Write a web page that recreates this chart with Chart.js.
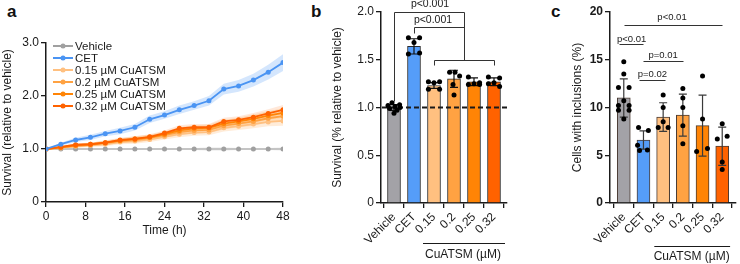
<!DOCTYPE html>
<html>
<head>
<meta charset="utf-8">
<title>CuATSM survival</title>
<script src="https://cdn.jsdelivr.net/npm/chart.js@4.4.0/dist/chart.umd.min.js"></script>
<style>
  body { margin: 0; background: #fff; }
  #wrap { position: relative; width: 740px; height: 264px; overflow: hidden; }
  canvas { position: absolute; top: 0; }
  .panel { position: absolute; top: 2px; font: bold 17px 'Liberation Sans', Arial, sans-serif; color: #111; }
</style>
</head>
<body>
<div id="wrap">
  <div class="panel" style="left:7px">a</div>
  <div class="panel" style="left:311px">b</div>
  <div class="panel" style="left:551px">c</div>
  <canvas id="chartA" style="left:0" width="300" height="264"></canvas>
  <canvas id="chartB" style="left:300px" width="215" height="264"></canvas>
  <canvas id="chartC" style="left:520px" width="220" height="264"></canvas>
</div>
<script>
// ---- panel a : survival over time ----
const hours = [0, 3, 6, 9, 12, 15, 18, 21, 24, 27, 30, 33, 36, 39, 42, 45, 48];
const vehicleMean = [1.00, 1.00, 1.00, 1.00, 1.00, 1.00, 1.00, 1.00, 1.00, 1.00, 1.00, 1.00, 1.00, 1.00, 1.00, 1.00, 1.00];
const vehicleSd   = [0.00, 0.01, 0.02, 0.02, 0.02, 0.02, 0.02, 0.02, 0.02, 0.02, 0.02, 0.03, 0.03, 0.02, 0.02, 0.02, 0.03];
const cetMean = [1.00, 1.09, 1.17, 1.22, 1.29, 1.34, 1.41, 1.56, 1.64, 1.74, 1.82, 1.91, 2.13, 2.19, 2.30, 2.45, 2.63];
const cetSd   = [0.00, 0.03, 0.04, 0.05, 0.05, 0.06, 0.06, 0.07, 0.07, 0.08, 0.08, 0.09, 0.10, 0.11, 0.12, 0.14, 0.16];
const cu015Mean = [1.00, 1.02, 1.05, 1.07, 1.09, 1.13, 1.15, 1.18, 1.23, 1.28, 1.31, 1.32, 1.40, 1.43, 1.47, 1.51, 1.53];
const cu02Mean  = [1.00, 1.03, 1.06, 1.08, 1.11, 1.15, 1.17, 1.21, 1.26, 1.32, 1.35, 1.36, 1.44, 1.48, 1.52, 1.58, 1.62];
const cu025Mean = [1.00, 1.03, 1.07, 1.09, 1.12, 1.16, 1.19, 1.22, 1.28, 1.35, 1.39, 1.40, 1.48, 1.52, 1.57, 1.63, 1.68];
const cu032Mean = [1.00, 1.04, 1.08, 1.09, 1.12, 1.17, 1.19, 1.23, 1.30, 1.39, 1.41, 1.41, 1.52, 1.55, 1.60, 1.67, 1.74];
const cuSd      = [0.00, 0.02, 0.03, 0.03, 0.04, 0.04, 0.05, 0.05, 0.05, 0.06, 0.06, 0.06, 0.07, 0.07, 0.08, 0.08, 0.09];

// ---- panel b : survival at end point ----
const groups = ['Vehicle', 'CET', '0.15', '0.2', '0.25', '0.32'];
const survMean = [1.00, 1.64, 1.23, 1.30, 1.27, 1.27];
const survSd   = [0.03, 0.08, 0.03, 0.09, 0.04, 0.04];
const survVehicle = [1.05, 1.03, 1.02, 1.01, 1.00, 0.99, 0.97, 0.94];
const survCet     = [1.73, 1.73, 1.68, 1.56, 1.57];
const surv015     = [1.27, 1.27, 1.26, 1.19, 1.19];
const surv02      = [1.37, 1.37, 1.33, 1.24, 1.13];
const surv025     = [1.32, 1.26, 1.25, 1.24, 1.24];
const surv032     = [1.32, 1.31, 1.26, 1.25, 1.22];

// ---- panel c : cells with inclusions ----
const inclMean = [11.0, 6.6, 9.0, 9.2, 8.1, 5.95];
const inclSd   = [2.0, 0.95, 1.5, 2.2, 3.2, 2.0];
const inclVehicle = [14.8, 13.5, 12.1, 12.1, 10.7, 10.2, 10.2, 9.7, 9.7, 8.8];
const inclCet     = [7.9, 7.6, 6.05, 5.5, 5.55];
const incl015     = [11.3, 10.0, 8.5, 7.9, 7.9];
const incl02      = [12.0, 11.0, 10.0, 8.1, 6.2];
const incl025     = [13.3, 8.8, 5.4, 5.7];
const incl032     = [8.3, 7.0, 6.7, 4.3, 3.5];

// colours
const grey = '#A3A2A7', blue = '#559DF9';
const oranges = ['#FFC080', '#FFA242', '#FF8405', '#FF6200'];
const barColors = [grey, blue].concat(oranges);

// horizontal scatter of dots in each group (layout only)
const jit5 = [-0.28, 0.28, 0, -0.28, 0.28];
const jitB = [[-0.1, 0.28, -0.3, 0.05, 0.3, -0.22, 0.15, 0], jit5, jit5, [-0.22, 0.05, 0.28, -0.05, 0], jit5, jit5];
const jitC = [[0, 0, -0.27, 0.27, 0, -0.27, 0.27, -0.27, 0.27, 0], [-0.25, 0.25, -0.3, -0.2, 0.2], [0, 0, 0, -0.25, 0.25], [0, 0, 0, 0, 0], [0, 0, -0.3, 0.25], [0, 0.25, -0.25, 0, 0]];

const FONT = "'Liberation Sans', Arial, Helvetica, sans-serif";
const INK = '#1a1a1a';
Chart.defaults.font.family = FONT;
Chart.defaults.font.size = 12;
Chart.defaults.color = INK;
Chart.defaults.animation = false;
Chart.defaults.events = [];
Chart.defaults.plugins.legend.display = false;
Chart.defaults.plugins.tooltip.enabled = false;

function axis(opts) {
  const base = {
    grid: { drawOnChartArea: false, color: INK, lineWidth: 1.3, tickLength: 5 },
    border: { color: INK, width: 1.5 },
    ticks: { color: INK, padding: 2 }
  };
  const out = Object.assign({}, base, opts);
  out.ticks = Object.assign({}, base.ticks, opts.ticks || {});
  return out;
}

// ================= panel a =================
const seriesA = [
  { label: 'Vehicle', mean: vehicleMean, sd: vehicleSd, color: '#A0A0A0', line: '#C4C4C4', band: 'rgba(160,160,160,0.25)', order: 6 },
  { label: 'CET', mean: cetMean, sd: cetSd, color: '#4A94F3', line: '#4A94F3', band: 'rgba(85,157,249,0.25)', order: 1 },
  { label: '0.15 µM CuATSM', mean: cu015Mean, sd: cuSd, color: oranges[0], line: oranges[0], band: 'rgba(255,192,128,0.3)', order: 5 },
  { label: '0.2 µM CuATSM', mean: cu02Mean, sd: cuSd, color: oranges[1], line: oranges[1], band: 'rgba(255,162,66,0.22)', order: 4 },
  { label: '0.25 µM CuATSM', mean: cu025Mean, sd: cuSd, color: oranges[2], line: oranges[2], band: 'rgba(255,132,5,0.18)', order: 3 },
  { label: '0.32 µM CuATSM', mean: cu032Mean, sd: cuSd, color: oranges[3], line: oranges[3], band: 'rgba(255,98,0,0.15)', order: 2 }
];

const dsA = [];
seriesA.forEach(s => {
  dsA.push({ data: hours.map((h, i) => ({ x: h, y: s.mean[i] + s.sd[i] })), borderWidth: 0, pointRadius: 0, fill: false, order: 20 });
  dsA.push({ data: hours.map((h, i) => ({ x: h, y: s.mean[i] - s.sd[i] })), borderWidth: 0, pointRadius: 0, fill: '-1', backgroundColor: s.band, order: 20 });
  dsA.push({
    label: s.label, data: hours.map((h, i) => ({ x: h, y: s.mean[i] })),
    borderColor: s.line, backgroundColor: s.color, pointBackgroundColor: s.color, pointBorderWidth: 0,
    pointRadius: 2.5, borderWidth: 1.8, fill: false, order: s.order
  });
});

const legendA = {
  id: 'legendA',
  afterDraw(chart) {
    const { ctx, chartArea } = chart;
    const x0 = chartArea.left + 7, y0 = chartArea.top + 3;
    ctx.save();
    seriesA.forEach((s, i) => {
      const y = y0 + i * 12;
      ctx.strokeStyle = s.color; ctx.lineWidth = 2;
      ctx.beginPath(); ctx.moveTo(x0, y); ctx.lineTo(x0 + 20, y); ctx.stroke();
      ctx.fillStyle = s.color;
      ctx.beginPath(); ctx.arc(x0 + 10, y, 2.5, 0, Math.PI * 2); ctx.fill();
      ctx.fillStyle = INK; ctx.font = '11.5px ' + FONT; ctx.textBaseline = 'middle';
      ctx.fillText(s.label, x0 + 22, y + 0.5);
    });
    ctx.restore();
  }
};

new Chart(document.getElementById('chartA'), {
  type: 'line',
  data: { datasets: dsA },
  options: {
    responsive: false,
    layout: { padding: { left: 0, right: 17, top: 43, bottom: 26 } },
    scales: {
      x: axis({
        type: 'linear', min: 0, max: 48,
        ticks: { stepSize: 8 },
        title: { display: true, text: 'Time (h)', padding: { top: 0, bottom: 0 } },
        afterFit(s) { s.height = 36; }
      }),
      y: axis({
        min: 0, max: 3,
        ticks: { stepSize: 1, callback: v => v === 0 ? '0' : v.toFixed(1) },
        title: { display: true, text: 'Survival (relative to vehicle)', padding: { top: 0, bottom: 0 } },
        afterFit(s) { s.width = 46; }
      })
    }
  },
  plugins: [legendA]
});

// ============ panels b and c (bars + dots) ============
function dotData(groupsDots, jit) {
  const pts = [];
  groupsDots.forEach((vals, g) => vals.forEach((v, k) => pts.push({ x: g + jit[g][k], y: v })));
  return pts;
}

function extras(cfg) {
  return {
    id: 'extras',
    afterDatasetDraw(chart, args) {
      if (args.index !== 0) return;
      const { ctx, chartArea: ca, scales: { x, y } } = chart;
      ctx.save();
      if (cfg.dashed !== undefined) {
        const py = y.getPixelForValue(cfg.dashed);
        ctx.strokeStyle = INK; ctx.lineWidth = 2; ctx.setLineDash([5, 3]);
        ctx.beginPath(); ctx.moveTo(ca.left + 1, py); ctx.lineTo(ca.right + 3, py); ctx.stroke();
        ctx.setLineDash([]);
      }
      ctx.strokeStyle = cfg.errColor; ctx.lineWidth = 1.2;
      cfg.means.forEach((m, i) => {
        const px = x.getPixelForValue(i);
        const t = y.getPixelForValue(m + cfg.sd[i]), b = y.getPixelForValue(m - cfg.sd[i]);
        ctx.beginPath();
        ctx.moveTo(px, t); ctx.lineTo(px, b);
        ctx.moveTo(px - 4, t); ctx.lineTo(px + 4, t);
        ctx.moveTo(px - 4, b); ctx.lineTo(px + 4, b);
        ctx.stroke();
      });
      ctx.restore();
    },
    afterDraw(chart) {
      const { ctx, scales: { x, y } } = chart;
      ctx.save();
      ctx.strokeStyle = cfg.bracketColor; ctx.lineWidth = 1;
      cfg.brackets.forEach(pl => {
        ctx.beginPath();
        pl.forEach(([vx, vy], k) => {
          const px = Math.round(x.getPixelForValue(vx)) + 0.5, py = Math.round(y.getPixelForValue(vy)) + 0.5;
          k ? ctx.lineTo(px, py) : ctx.moveTo(px, py);
        });
        ctx.stroke();
      });
      ctx.fillStyle = INK; ctx.font = cfg.pFont; ctx.textAlign = 'center'; ctx.textBaseline = 'middle';
      cfg.texts.forEach(t => ctx.fillText(t.text, x.getPixelForValue(t.x), y.getPixelForValue(t.y)));
      // group label under the CuATSM doses
      const g = cfg.group;
      ctx.strokeStyle = INK; ctx.lineWidth = 1.2;
      ctx.beginPath();
      ctx.moveTo(x.getPixelForValue(g.x1), g.lineY); ctx.lineTo(x.getPixelForValue(g.x2), g.lineY);
      ctx.stroke();
      ctx.font = '12px ' + FONT;
      ctx.fillText(g.text, x.getPixelForValue(g.tx), g.textY);
      ctx.restore();
    }
  };
}

function barChart(id, o) {
  return new Chart(document.getElementById(id), {
    type: 'bar',
    data: {
      datasets: [
        {
          data: o.means.map((m, i) => ({ x: i, y: m })),
          backgroundColor: barColors, borderColor: o.barBorder, borderWidth: 1,
          barThickness: 13, order: 1
        },
        {
          type: 'scatter', data: o.dots, backgroundColor: '#000', pointRadius: 2.5,
          pointBorderWidth: 0, order: 0
        }
      ]
    },
    options: {
      responsive: false,
      layout: { padding: o.padding },
      scales: {
        x: axis({
          type: 'linear', min: o.xmin, max: o.xmax, offset: false,
          ticks: { stepSize: 1, includeBounds: false, autoSkip: false, minRotation: 45, maxRotation: 45,
                   callback: v => groups[v] !== undefined ? groups[v] : '' },
          afterFit(s) { s.height = 40; }
        }),
        y: axis({
          min: 0, max: o.ymax,
          ticks: { stepSize: o.step, font: o.yFont, callback: o.yFmt },
          title: { display: true, text: o.title, padding: { top: 0, bottom: 0 } },
          afterFit(s) { s.width = o.yWidth; }
        })
      }
    },
    plugins: [extras(o.extras)]
  });
}

barChart('chartB', {
  means: survMean,
  dots: dotData([survVehicle, survCet, surv015, surv02, surv025, surv032], jitB),
  barBorder: '#2b2b2b',
  padding: { left: 30, right: 8, top: 12, bottom: 21 },
  xmin: -0.65, xmax: 5.65, ymax: 2, step: 0.5, yWidth: 51,
  yFmt: v => v === 0 ? '0' : v.toFixed(1),
  title: 'Survival (% relative to vehicle)',
  extras: {
    dashed: 1.0, means: survMean, sd: survSd, errColor: '#111', bracketColor: '#333',
    pFont: '10.5px ' + FONT,
    brackets: [
      [[0, 1.07], [0, 2.0], [3.5, 2.0], [3.5, 1.5]],
      [[1, 1.78], [1, 1.845], [3.5, 1.845]],
      [[2, 1.44], [2, 1.5], [5, 1.5], [5, 1.44]]
    ],
    texts: [{ text: 'p<0.001', x: 1.8, y: 2.08 }, { text: 'p<0.001', x: 1.95, y: 1.915 }],
    group: { text: 'CuATSM (µM)', x1: 1.45, x2: 5.55, lineY: 243.5, tx: 3.45, textY: 255 }
  }
});

barChart('chartC', {
  means: inclMean,
  dots: dotData([inclVehicle, inclCet, incl015, incl02, incl025, incl032], jitC),
  barBorder: '#4a3b33',
  padding: { left: 50, right: 2, top: 12, bottom: 21 },
  xmin: -0.7, xmax: 5.7, ymax: 20, step: 5, yWidth: 40,
  yFont: { weight: 'bold' },
  yFmt: v => String(v),
  title: 'Cells with inclusions (%)',
  extras: {
    means: inclMean, sd: inclSd, errColor: '#3a3a3a', bracketColor: '#333',
    pFont: '9.5px ' + FONT,
    brackets: [
      [[0, 18.63], [5, 18.63]],
      [[-0.25, 16.6], [1, 16.6]],
      [[1, 14.85], [3, 14.85]],
      [[0.75, 12.93], [2.1, 12.93]]
    ],
    texts: [
      { text: 'p<0.01', x: 2.45, y: 19.4 },
      { text: 'p<0.01', x: 0.4, y: 17.15 },
      { text: 'p=0.01', x: 2.0, y: 15.45 },
      { text: 'p=0.02', x: 1.45, y: 13.5 }
    ],
    group: { text: 'CuATSM (µM)', x1: 1.55, x2: 5.4, lineY: 246.5, tx: 3.45, textY: 257 }
  }
});
</script>
</body>
</html>
